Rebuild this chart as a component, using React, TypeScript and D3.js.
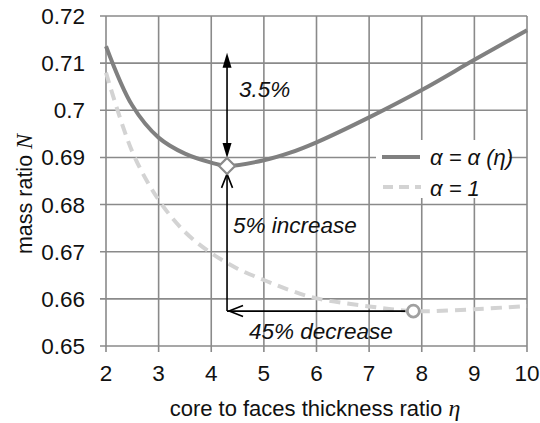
import React from "react";
import * as d3 from "d3";

const etaA = [2, 2.5, 3, 3.5, 4, 4.3, 5, 5.5, 6, 7, 8, 9, 10];
const massA = [0.7136, 0.7010, 0.6942, 0.6908, 0.6889, 0.6882, 0.6894, 0.6910, 0.6932, 0.6985, 0.7043, 0.7107, 0.7170];

const etaB = [2, 2.5, 3, 3.5, 4, 4.5, 5, 5.5, 6, 7, 7.84, 9, 10];
const massB = [0.7080, 0.6912, 0.6810, 0.6742, 0.6697, 0.6664, 0.6640, 0.6618, 0.6601, 0.6584, 0.6574, 0.6578, 0.6585];

const xTicks = [2, 3, 4, 5, 6, 7, 8, 9, 10];
const yTicks = [0.65, 0.66, 0.67, 0.68, 0.69, 0.7, 0.71, 0.72];
const yTickLabels = ["0.65", "0.66", "0.67", "0.68", "0.69", "0.7", "0.71", "0.72"];

const optEta = 4.3;
const optMass = 0.6882;
const unitEta = 7.84;
const unitMass = 0.6574;
const topMass = 0.7122;

const W = 540, H = 423;
const L = 106, R = 527, T = 16, B = 346;

export default function App() {
  const x = d3.scaleLinear().domain([2, 10]).range([L, R]);
  const y = d3.scaleLinear().domain([0.65, 0.72]).range([B, T]);
  const line = d3.line<[number, number]>().x(d => x(d[0])).y(d => y(d[1])).curve(d3.curveCatmullRom.alpha(0.5));
  const pathA = line(etaA.map((e, i) => [e, massA[i]]) as [number, number][]) || "";
  const pathB = line(etaB.map((e, i) => [e, massB[i]]) as [number, number][]) || "";
  const grid = "#8a8a8a";
  const font = "'Liberation Sans', Arial, sans-serif";
  const ax = x(optEta), ay = y(optMass);
  const cx = x(unitEta), cy = y(unitMass);
  const topY = y(topMass);
  return (
    <svg width={W} height={H} style={{ position: "absolute", left: 0, top: 0, background: "#fff" }} fontFamily={font}>
      <rect x={0} y={0} width={W} height={H} fill="#fff" />
      {xTicks.map(t => (
        <line key={"gx" + t} x1={x(t)} x2={x(t)} y1={T} y2={B + 6} stroke={grid} strokeWidth={1.6} />
      ))}
      {yTicks.map(t => (
        <line key={"gy" + t} x1={L - 6} x2={R} y1={y(t)} y2={y(t)} stroke={grid} strokeWidth={1.6} />
      ))}
      {xTicks.map(t => (
        <text key={"xl" + t} x={x(t)} y={381} fontSize={22.5} textAnchor="middle" fill="#111">{t}</text>
      ))}
      {yTicks.map((t, i) => (
        <text key={"yl" + t} x={85} y={y(t) + 8} fontSize={22.5} textAnchor="end" fill="#111">{yTickLabels[i]}</text>
      ))}
      <text x={315} y={416} fontSize={22} textAnchor="middle" fill="#111">
        core to faces thickness ratio <tspan fontFamily="'Liberation Serif', serif" fontStyle="italic" fontSize={24}>η</tspan>
      </text>
      <text transform={`translate(32,194) rotate(-90)`} fontSize={21.5} textAnchor="middle" fill="#111">
        mass ratio <tspan fontFamily="'Liberation Serif', serif" fontStyle="italic" fontSize={22.5}>N</tspan>
      </text>
      <path d={pathB} fill="none" stroke="#d3d3d3" strokeWidth={4} strokeDasharray="11,7" />
      <path d={pathA} fill="none" stroke="#808080" strokeWidth={4} />

      {/* top double arrow */}
      <line x1={ax} x2={ax} y1={topY + 12} y2={ay - 20} stroke="#000" strokeWidth={1.6} />
      <path d={`M${ax},${topY} L${ax - 4.5},${topY + 15} L${ax + 4.5},${topY + 15} Z`} fill="#000" />
      <path d={`M${ax},${ay - 8} L${ax - 4.5},${ay - 23} L${ax + 4.5},${ay - 23} Z`} fill="#000" />
      {/* lower vertical arrow */}
      <line x1={ax} x2={ax} y1={cy} y2={ay + 8} stroke="#000" strokeWidth={1.6} />
      <path d={`M${ax - 5.5},${ay + 22} L${ax},${ay + 8} L${ax + 5.5},${ay + 22}`} fill="none" stroke="#000" strokeWidth={1.6} />
      {/* horizontal arrow */}
      <line x1={ax} x2={cx - 8} y1={cy} y2={cy} stroke="#000" strokeWidth={1.6} />
      <path d={`M${ax + 16},${cy - 5.5} L${ax + 2},${cy} L${ax + 16},${cy + 5.5}`} fill="none" stroke="#000" strokeWidth={1.6} />

      <path d={`M${ax},${ay - 8} L${ax + 8},${ay} L${ax},${ay + 8} L${ax - 8},${ay} Z`} fill="#fff" stroke="#8a8a8a" strokeWidth={2.2} />
      <circle cx={cx} cy={cy} r={6} fill="#fff" stroke="#a0a0a0" strokeWidth={2.8} />

      <text x={239} y={97} fontSize={22.5} fontStyle="italic" fill="#111">3.5%</text>
      <text x={233} y={233} fontSize={22.5} fontStyle="italic" fill="#111">5% increase</text>
      <text x={249} y={339} fontSize={22.5} fontStyle="italic" fill="#111">45% decrease</text>

      {/* legend */}
      <rect x={376} y={140} width={133} height={58} fill="#fff" />
      <line x1={382} x2={420} y1={157} y2={157} stroke="#808080" strokeWidth={4} />
      <line x1={383} x2={421} y1={187} y2={187} stroke="#d3d3d3" strokeWidth={4} strokeDasharray="10,6" />
      <text x={430} y={165} fontSize={22} fontStyle="italic" fill="#111">α = α (η)</text>
      <text x={430} y={196} fontSize={22} fontStyle="italic" fill="#111">α = 1</text>
    </svg>
  );
}
